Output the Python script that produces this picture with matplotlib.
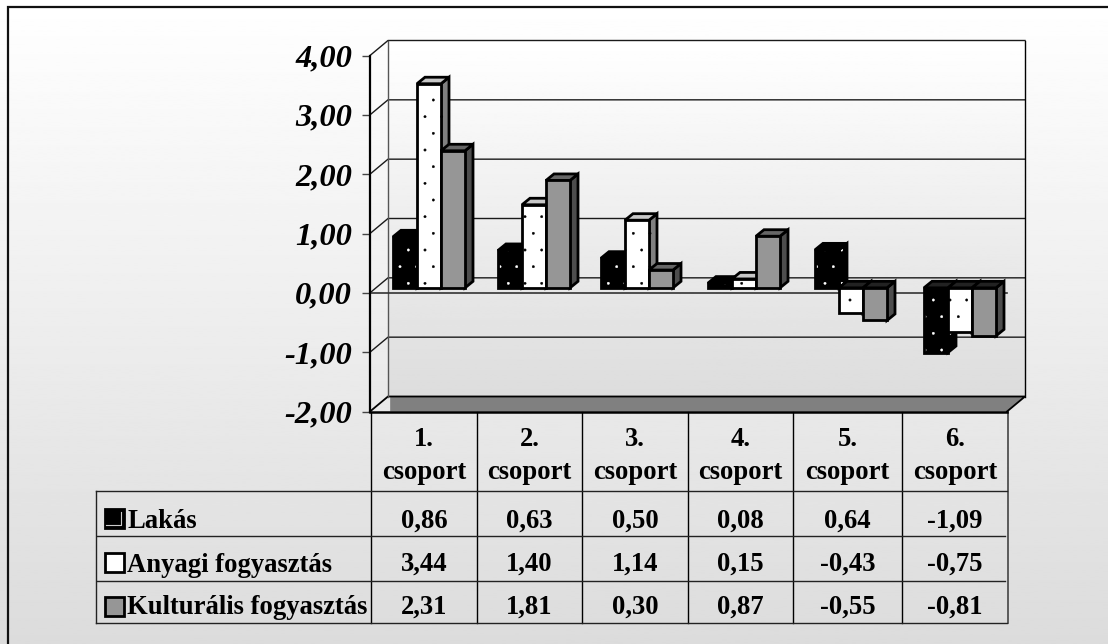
import numpy as np
import matplotlib
matplotlib.use("Agg")
import matplotlib.pyplot as plt
import matplotlib.hatch as mhatch
from matplotlib.patches import Polygon

groups = ["1.\ncsoport", "2.\ncsoport", "3.\ncsoport", "4.\ncsoport", "5.\ncsoport", "6.\ncsoport"]
series_names = ["Lakás", "Anyagi fogyasztás", "Kulturális fogyasztás"]
lakas = [0.86, 0.63, 0.50, 0.08, 0.64, -1.09]
anyagi = [3.44, 1.40, 1.14, 0.15, -0.43, -0.75]
kulturalis = [2.31, 1.81, 0.30, 0.87, -0.55, -0.81]
yticks = [-2, -1, 0, 1, 2, 3, 4]

series = [lakas, anyagi, kulturalis]
front = ["#000000", "#ffffff", "#969696"]
top = ["#000000", "#c8c8c8", "#666666"]
side = ["#000000", "#808080", "#4d4d4d"]
dots = ["#ffffff", "#000000", None]


def hu(v):
    return f"{v:.2f}".replace(".", ",")


W, H = 1108, 644
plt.rcParams["font.family"] = ["Liberation Serif", "DejaVu Serif"]
plt.rcParams["hatch.linewidth"] = 0.3
mhatch.SmallFilledCircles.size = 0.07
fig = plt.figure(figsize=(W / 100, H / 100), dpi=100, facecolor="white")

# page layer in pixel coordinates
bg = fig.add_axes([0, 0, 1, 1], zorder=0)
bg.set_xlim(0, W)
bg.set_ylim(H, 0)
bg.axis("off")
grad = np.linspace(1.0, 0.862, 256).reshape(-1, 1)
bg.imshow(grad, extent=[0, W, H, 0], cmap="gray", vmin=0, vmax=1, aspect="auto", zorder=0)
bg.plot([8, 8, W], [H, 7, 7], color="#111111", lw=1.6, solid_joinstyle="miter", zorder=1)

# plot layer: front plane of the 3-D box
L, R, T, B = 370, 1007, 55.5, 411.5
ax = fig.add_axes([L / W, 1 - B / H, (R - L) / W, (B - T) / H], zorder=2)
ax.patch.set_alpha(0)
n = len(groups)
ax.set_xlim(0, n)
ax.set_ylim(min(yticks), max(yticks))
ux = (R - L) / n
uy = (B - T) / (max(yticks) - min(yticks))
DX, DY = 18 / ux, 15 / uy
ymin, ymax = min(yticks), max(yticks)

# back wall
ax.imshow(np.linspace(1.0, 0.865, 256).reshape(-1, 1), cmap="gray", vmin=0, vmax=1,
          extent=[DX, n + DX, ymin + DY, ymax + DY], aspect="auto", zorder=1, clip_on=False)
ax.set_xlim(0, n)
ax.set_ylim(ymin, ymax)

# floor
ax.add_patch(Polygon([(0.19, ymin), (n, ymin), (n + DX, ymin + DY), (0.19, ymin + DY)],
                     closed=True, fc="#808080", ec="none", zorder=2, clip_on=False))
ax.plot([0, DX, n + DX, n], [ymin, ymin + DY, ymin + DY, ymin], color="k", lw=1.3, zorder=3, clip_on=False)
ax.plot([0, n], [ymin, ymin], color="k", lw=1.8, zorder=3, clip_on=False)

# gridlines on the wall and the left side
for t in yticks[1:]:
    ax.plot([0, DX, n + DX], [t, t + DY, t + DY], color="#1a1a1a", lw=1.0, zorder=3, clip_on=False)
ax.plot([DX, DX], [ymin + DY, ymax + DY], color="#555555", lw=1.0, zorder=3, clip_on=False)
ax.plot([n + DX, n + DX], [ymin + DY, ymax + DY], color="k", lw=1.0, zorder=3, clip_on=False)
ax.plot([0, n], [0, 0], color="#333333", lw=1.2, zorder=3, clip_on=False)

# bars
bw = 24 / ux
group_left_px = [393, 498, 601, 708, 815, 924]
base = 5 / uy
dx, dy = 8 / ux, 6.5 / uy
z = 10
for g in range(n):
    for s, vals in enumerate(series):
        v = vals[g]
        x0 = (group_left_px[g] - L) / ux + s * bw
        x1 = x0 + bw
        y0 = base
        y1 = base + v
        hi = max(y0, y1)
        lo = min(y0, y1)
        kw = dict(closed=True, clip_on=False, zorder=z)
        h = "." if dots[s] else None
        side_pts = [(x1, lo), (x1 + dx, lo + dy), (x1 + dx, hi + dy), (x1, hi)]
        ax.add_patch(Polygon(side_pts, fc=side[s], ec=dots[s] or "none", hatch=h, lw=0, **kw))
        ax.add_patch(Polygon(side_pts, fill=False, ec="k", lw=2.0, **kw))
        cap = "#222222" if v < 0 else top[s]
        ax.add_patch(Polygon([(x0, hi), (x1, hi), (x1 + dx, hi + dy), (x0 + dx, hi + dy)],
                             fc=cap, ec="k", lw=2.0, **kw))
        ax.bar(x0, v, bw, bottom=base, align="edge", color=front[s], edgecolor=dots[s] or "none",
               hatch=h, linewidth=0, zorder=z + 0.1, clip_on=False)
        ax.bar(x0, v, bw, bottom=base, align="edge", fill=False, edgecolor="k",
               linewidth=2.0, zorder=z + 0.2, clip_on=False)
        z += 1

# axis
ax.set_xticks([])
ax.set_yticks(yticks)
ax.set_yticklabels([hu(t) for t in yticks], fontsize=23.4, fontweight="bold", fontstyle="italic")
ax.tick_params(axis="y", length=5.8, width=1.0, color="#444444", pad=7)
for sp in ("top", "right", "bottom"):
    ax.spines[sp].set_visible(False)
ax.spines["left"].set_linewidth(1.6)
ax.spines["left"].set_zorder(4)

# data table (pixel coordinates)
col_x = [370.5, 476.5, 581.5, 687.5, 792.5, 901.5, 1007.5]
row_y = [490.5, 535.5, 580.5, 622.5]
for x in col_x[:-1]:
    bg.plot([x, x], [B, row_y[-1]], color="k", lw=1.0, zorder=3)
bg.plot([col_x[-1]] * 2, [B, row_y[-1]], color="#444444", lw=1.2, zorder=3)
bg.plot([95.5, R], [row_y[0]] * 2, color="#222222", lw=1.0, zorder=3)
bg.plot([95.5, 95.5], [row_y[0], row_y[-1]], color="#222222", lw=1.0, zorder=3)
bg.plot([97, R - 2], [row_y[1]] * 2, color="#222222", lw=1.0, zorder=3)
bg.plot([97, R - 2], [row_y[2]] * 2, color="#222222", lw=1.0, zorder=3)
bg.plot([95.5, R], [row_y[3]] * 2, color="#222222", lw=1.0, zorder=3)

tkw = dict(fontsize=19.2, fontweight="bold", color="k", zorder=5)
for i, label in enumerate(groups):
    cx = (col_x[i] + col_x[i + 1]) / 2 + 0.5
    a, b = label.split("\n")
    bg.text(cx, 446, a, ha="center", va="baseline", **tkw)
    bg.text(cx, 479, b, ha="center", va="baseline", **tkw)

legend_y = [527.5, 572, 614]
value_y = [527.5, 570.5, 614]
key_y = [(509, 528), (553, 572), (597, 616)]
for s, vals in enumerate(series):
    bg.text(127, legend_y[s], series_names[s], ha="left", va="baseline", **tkw)
    for i, v in enumerate(vals):
        bg.text((col_x[i] + col_x[i + 1]) / 2 + 0.5, value_y[s], hu(v), ha="center", va="baseline", **tkw)
    y0, y1 = key_y[s]
    bg.add_patch(Polygon([(104.5, y0), (123.5, y0), (123.5, y1), (104.5, y1)], closed=True,
                         fc=front[s], ec="k", lw=2.0, zorder=4))
bg.plot([106, 121, 121], [525, 525, 512], color="#cccccc", lw=0.8, zorder=5)

fig.savefig("out.png", dpi=100, facecolor=fig.get_facecolor())
